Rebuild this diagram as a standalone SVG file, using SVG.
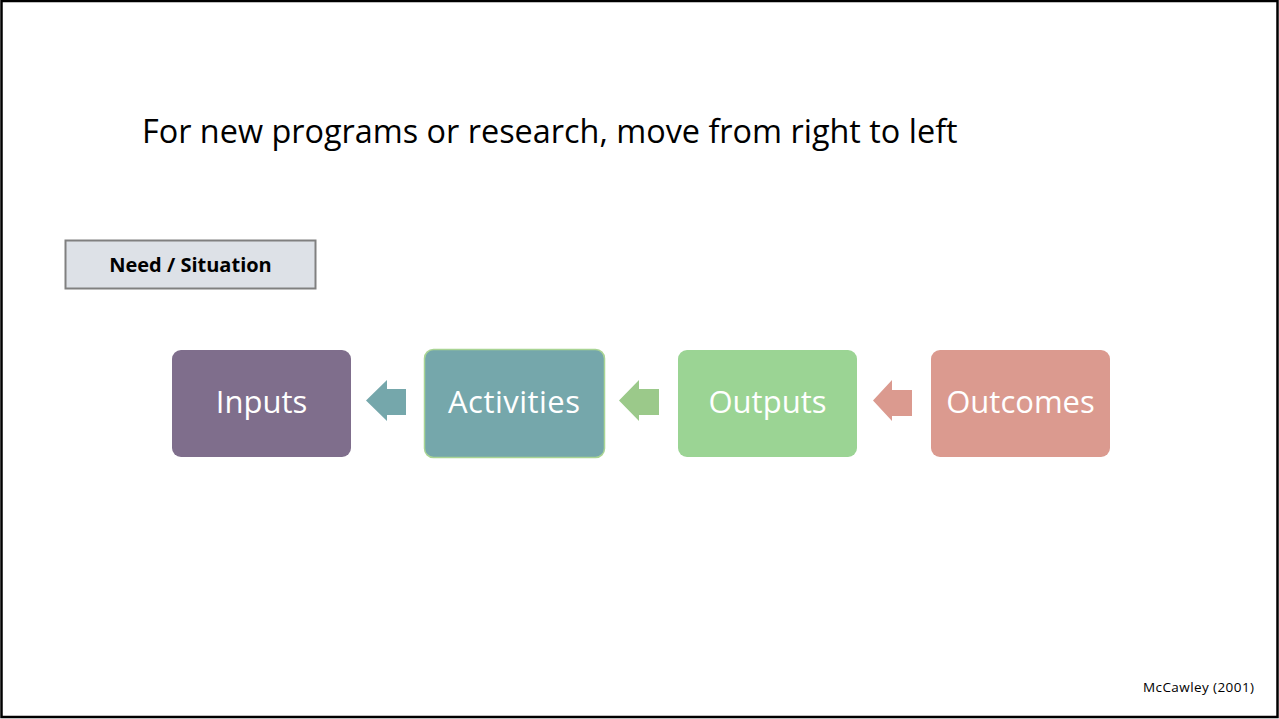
<svg xmlns="http://www.w3.org/2000/svg" width="1279" height="719" viewBox="0 0 1279 719">
<style>
.t{font-family:"Open Sans","Liberation Sans",sans-serif}
.node text{fill:#ffffff;font-size:31px;text-anchor:middle}
</style>
<rect x="0" y="0" width="1279" height="719" fill="#ffffff"/>
<rect x="1.5" y="1" width="1276" height="716" fill="none" stroke="#000000" stroke-width="2.5"/>
<text class="t" x="142" y="143" font-size="32.4" fill="#000000">For new programs or research, move from right to left</text>
<g id="need">
<rect x="65.5" y="240.5" width="250" height="48" fill="#dde1e7" stroke="#808080" stroke-width="2"/>
<text class="t" x="190.5" y="272" font-size="20" font-weight="bold" text-anchor="middle" fill="#000000">Need / Situation</text>
</g>
<g id="inputs" class="node">
<rect x="172" y="350" width="179" height="107" rx="9" fill="#7f6e8c"/>
<text class="t" x="261.5" y="413">Inputs</text>
</g>
<g id="activities" class="node">
<rect x="424.5" y="349.5" width="180" height="108" rx="9" fill="#75a7ab" stroke="#a9d494" stroke-width="1.5"/>
<text class="t" x="514" y="413" font-size="32" textLength="132">Activities</text>
</g>
<g id="outputs" class="node">
<rect x="678" y="350" width="179" height="107" rx="9" fill="#9bd494"/>
<text class="t" x="767.5" y="413">Outputs</text>
</g>
<g id="outcomes" class="node">
<rect x="931" y="350" width="179" height="107" rx="9" fill="#db9a8f"/>
<text class="t" x="1020.5" y="413">Outcomes</text>
</g>
<g id="connectors">
<polygon points="366,400.5 387,380 387,389 406,389 406,415 387,415 387,421" fill="#75a7ab"/>
<polygon points="619,400.5 639,380 639,389 659,389 659,415 639,415 639,421" fill="#9bc98a"/>
<polygon points="873,400.5 892,380 892,390 912,390 912,416 892,416 892,421" fill="#db9a8f"/>
</g>
<text class="t" x="1254" y="692" font-size="13.5" text-anchor="end" textLength="111" fill="#000000">McCawley (2001)</text>
</svg>
